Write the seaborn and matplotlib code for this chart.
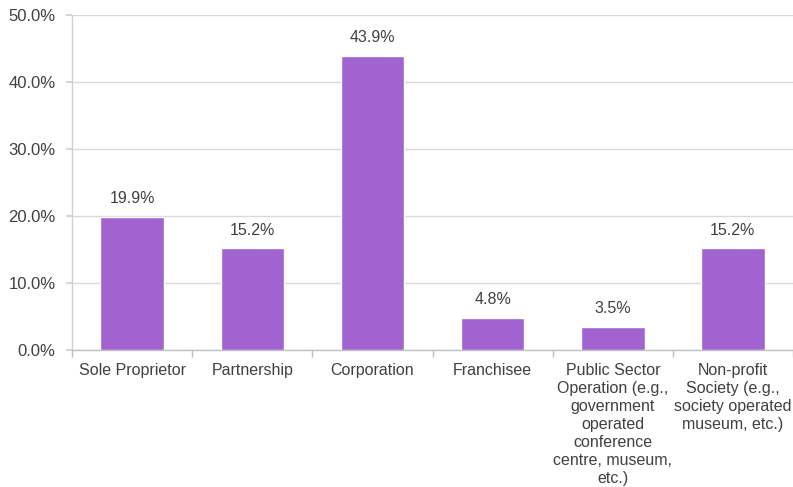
import matplotlib
matplotlib.use("Agg")
import matplotlib.pyplot as plt
import seaborn as sns
import pandas as pd
from matplotlib.ticker import FuncFormatter, FixedLocator

categories = [
    "Sole Proprietor",
    "Partnership",
    "Corporation",
    "Franchisee",
    "Public Sector\nOperation (e.g.,\ngovernment\noperated\nconference\ncentre, museum,\netc.)",
    "Non-profit\nSociety (e.g.,\nsociety operated\nmuseum, etc.)",
]
values = [19.9, 15.2, 43.9, 4.8, 3.5, 15.2]
value_labels = ["19.9%", "15.2%", "43.9%", "4.8%", "3.5%", "15.2%"]

sns.set_theme(style="white")
plt.rcParams['font.family'] = ['Liberation Sans', 'DejaVu Sans']

text_color = "#404040"
bar_color = "#A063D0"
fs = 11.5

fig = plt.figure(figsize=(7.93, 4.87), dpi=100)
ax = fig.add_axes([0.091, 0.2813, 0.909, 0.688])

df = pd.DataFrame({"cat": categories, "val": values})
sns.barplot(data=df, x="cat", y="val", color=bar_color, width=0.53,
            saturation=1, ax=ax, zorder=3)

ax.set_xlim(-0.5, 5.5)
ax.set_ylim(0, 50)
ax.set_yticks([0, 10, 20, 30, 40, 50])
ax.yaxis.set_major_formatter(FuncFormatter(lambda v, p: f"{v:.1f}%"))
ax.grid(axis="y", color="#D9D9D9", linewidth=1.0, zorder=0)
ax.set_axisbelow(True)

for s in ["top", "right"]:
    ax.spines[s].set_visible(False)
ax.spines["left"].set_color("#D0D0D0")
ax.spines["left"].set_linewidth(1.0)
ax.spines["bottom"].set_color("#BFBFBF")
ax.spines["bottom"].set_linewidth(1.0)

ax.tick_params(axis="y", left=True, length=4, color="#D0D0D0", labelsize=fs + 0.5,
               labelcolor=text_color, pad=8)
ax.tick_params(axis="x", which="major", length=0, labelsize=fs,
               labelcolor=text_color, pad=9)
ax.xaxis.set_minor_locator(FixedLocator([-0.5, 0.5, 1.5, 2.5, 3.5, 4.5, 5.5]))
ax.tick_params(axis="x", which="minor", bottom=True, length=5, color="#BFBFBF")
for lbl in ax.get_xticklabels():
    lbl.set_linespacing(1.25)
    lbl.set_verticalalignment("top")

ax.set_xlabel("")
ax.set_ylabel("")

for i, (v, t) in enumerate(zip(values, value_labels)):
    ax.annotate(t, (i, v), xytext=(0, 7.5), textcoords="offset points",
                ha="center", va="bottom", fontsize=fs, color=text_color)

fig.savefig("out.png", dpi=100)
